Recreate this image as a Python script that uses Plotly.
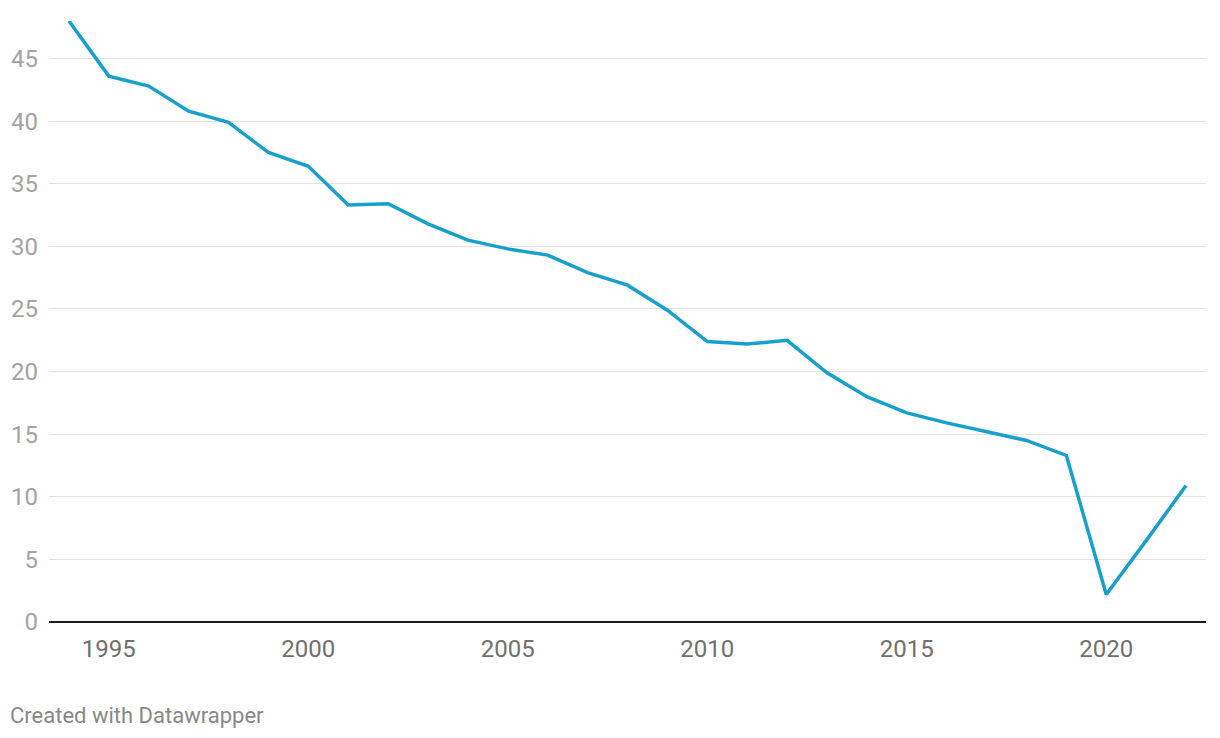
import plotly.graph_objects as go

# ── Data ───────────────────────────────────────────────────────────────────
years = list(range(1994, 2023))
values = [
    48.0, 43.6, 42.8, 40.8, 39.9, 37.5, 36.4, 33.3, 33.4, 31.8,
    30.5, 29.8, 29.3, 27.9, 26.9, 24.9, 22.4, 22.2, 22.5, 19.9,
    18.0, 16.7, 15.9, 15.2, 14.5, 13.3, 2.2, 6.5, 10.9,
]
x_ticks = [1995, 2000, 2005, 2010, 2015, 2020]
y_ticks = [0, 5, 10, 15, 20, 25, 30, 35, 40, 45]

LINE_COL = "#18a0cd"
GRID_COL = "#e3e3e3"
FONT = "Roboto, 'Noto Sans', sans-serif"

fig = go.Figure()
fig.add_trace(go.Scatter(
    x=years, y=values, mode="lines",
    line=dict(color=LINE_COL, width=3.5),
    hoverinfo="skip", showlegend=False,
))

# page body adds an 8px offset, so margins are shifted to compensate
fig.update_layout(
    width=1220, height=738,
    paper_bgcolor="white", plot_bgcolor="white",
    margin=dict(l=41, r=22, t=13, b=124),
    font=dict(family=FONT),
    xaxis=dict(
        range=[1993.5, 2022.5], tickvals=x_ticks,
        showgrid=False, zeroline=False, showline=False,
        ticks="", tickfont=dict(size=24, color="#707070"),
        ticklabelstandoff=10, automargin=False,
    ),
    yaxis=dict(
        range=[0, 48], tickvals=y_ticks,
        showgrid=True, gridcolor=GRID_COL, gridwidth=1,
        zeroline=True, zerolinecolor="#1a1a1a", zerolinewidth=2,
        showline=False, ticks="",
        tickfont=dict(size=24, color="#a3a3a3"),
        ticklabelstandoff=10, automargin=False,
    ),
    annotations=[dict(
        text="Created with Datawrapper", xref="paper", yref="paper",
        x=-41 / 1157, y=-93 / 601, xanchor="left", yanchor="middle",
        showarrow=False, font=dict(size=22, color="#888888"),
    )],
)

fig.write_html("out.html")
